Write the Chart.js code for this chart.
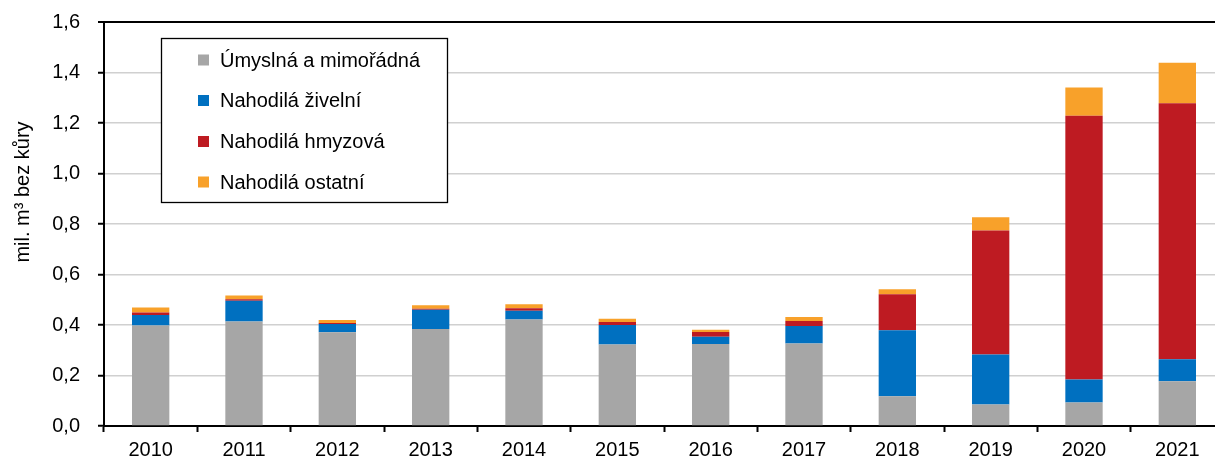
<!DOCTYPE html>
<html>
<head>
<meta charset="utf-8">
<script src="https://cdn.jsdelivr.net/npm/chart.js@4"></script>
<style>
  html, body { margin: 0; padding: 0; background: #fff; overflow: hidden; }
  #wrap { position: relative; width: 1224px; height: 457px; }
</style>
</head>
<body>
<div id="wrap"><canvas id="c"></canvas></div>
<script>
const years = ['2010','2011','2012','2013','2014','2015','2016','2017','2018','2019','2020','2021'];
const umyslna = [0.398,0.414,0.371,0.384,0.422,0.323,0.325,0.327,0.118,0.085,0.093,0.177];
const zivelni = [0.042,0.082,0.033,0.076,0.034,0.077,0.028,0.069,0.261,0.198,0.091,0.087];
const hmyzova = [0.010,0.006,0.004,0.004,0.010,0.012,0.019,0.020,0.143,0.491,1.045,1.014];
const ostatni = [0.019,0.015,0.012,0.014,0.016,0.013,0.009,0.016,0.020,0.053,0.112,0.161];
const seriesNames = ['Úmyslná a mimořádná','Nahodilá živelní','Nahodilá hmyzová','Nahodilá ostatní'];
const yTicks = [0,0.2,0.4,0.6,0.8,1.0,1.2,1.4,1.6];
const yTitle = 'mil. m³ bez kůry';

const colors = ['#A6A6A6','#0070C0','#BE1B22','#F8A12A'];
const FONT = '"Liberation Sans", Arial, sans-serif';

const legendPlugin = {
  id: 'customLegend',
  afterDraw(chart) {
    const ctx = chart.ctx;
    ctx.save();
    // y-axis title
    ctx.save();
    ctx.translate(23, 192);
    ctx.rotate(-Math.PI/2);
    ctx.font = '20px ' + FONT;
    ctx.fillStyle = '#000';
    ctx.textAlign = 'center';
    ctx.textBaseline = 'middle';
    ctx.fillText(yTitle, 0, 0);
    ctx.restore();
    // legend box
    ctx.fillStyle = '#fff';
    ctx.fillRect(161, 38, 286, 165);
    ctx.strokeStyle = '#000';
    ctx.lineWidth = 1.3;
    ctx.strokeRect(161.5, 38.5, 286, 164);
    ctx.font = '20px ' + FONT;
    ctx.textBaseline = 'middle';
    ctx.textAlign = 'left';
    const rows = [60, 100.5, 141.5, 182];
    chart.data.datasets.forEach((ds, i) => {
      ctx.fillStyle = ds.backgroundColor;
      ctx.fillRect(198, rows[i] - 5.5, 11, 11);
      ctx.fillStyle = '#000';
      ctx.fillText(ds.label, 220, rows[i] + 1);
    });
    ctx.restore();
  }
};

const datasets = [umyslna, zivelni, hmyzova, ostatni].map((d, i) => ({
  label: seriesNames[i],
  data: d,
  backgroundColor: colors[i],
  borderWidth: 0,
  barPercentage: 0.4,
  categoryPercentage: 1.0
}));

new Chart(document.getElementById('c'), {
  type: 'bar',
  data: { labels: years, datasets },
  options: {
    responsive: true,
    maintainAspectRatio: false,
    animation: false,
    layout: { padding: { top: 22, right: 0, left: 0, bottom: 0 } },
    plugins: { legend: { display: false }, tooltip: { enabled: false } },
    scales: {
      x: {
        stacked: true,
        afterFit(scale) { scale.height = 31; scale.paddingLeft = 0; scale.paddingRight = 0; },
        grid: { offset: true, drawOnChartArea: false, drawTicks: true, tickLength: 6, tickColor: '#000', tickWidth: 2 },
        border: { color: '#000', width: 2 },
        ticks: { color: '#000', font: { family: FONT, size: 20 }, padding: 6, maxRotation: 0 }
      },
      y: {
        stacked: true,
        min: 0, max: 1.6,
        afterFit(scale) { scale.width = 104; scale.paddingTop = 0; scale.paddingBottom = 0; },
        afterBuildTicks(scale) { scale.ticks = yTicks.map(v => ({ value: v })); },
        grid: {
          color: c => (c.tick && c.tick.value === 1.6) ? '#000' : '#D0D0D0',
          lineWidth: c => (c.tick && c.tick.value === 1.6) ? 2 : 1.5,
          drawTicks: true, tickLength: 6, tickColor: '#000', tickWidth: 2
        },
        border: { color: '#000', width: 2 },
        ticks: {
          color: '#000', font: { family: FONT, size: 20 }, padding: 18,
          callback: v => Number(v).toFixed(1).replace('.', ',')
        }
      }
    }
  },
  plugins: [legendPlugin]
});
</script>
</body>
</html>
